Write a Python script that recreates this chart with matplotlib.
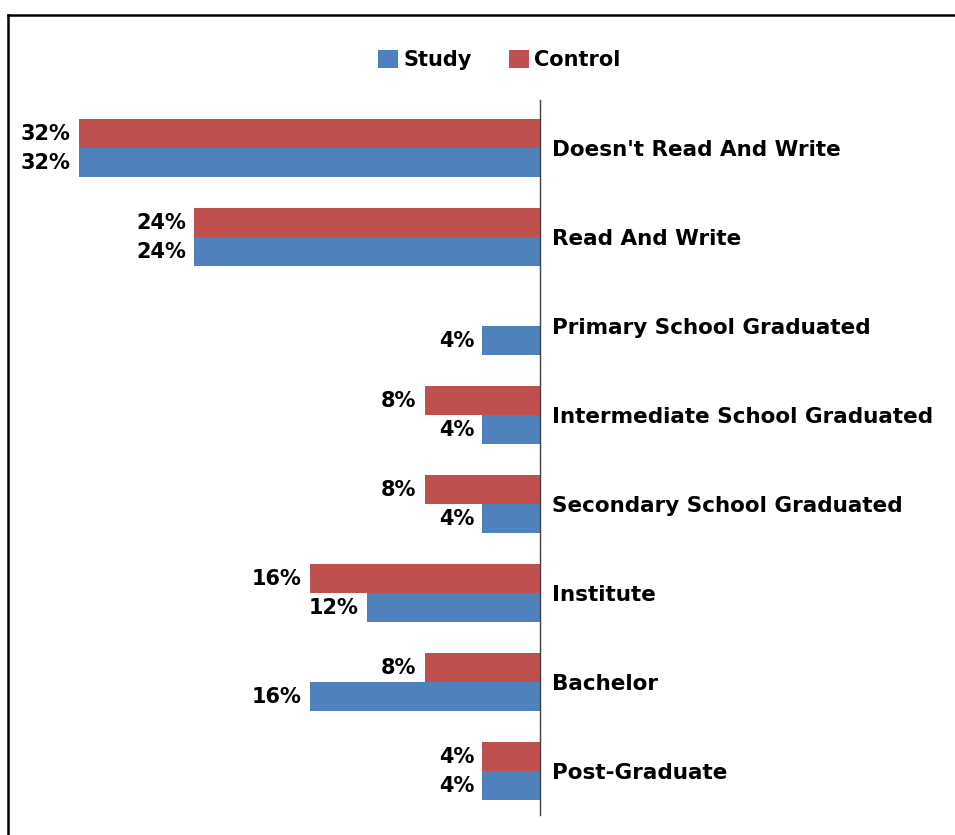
import matplotlib.pyplot as plt
from matplotlib.lines import Line2D
import numpy as np

# Education level categories (top to bottom)
categories = ["Doesn't Read And Write", "Read And Write", "Primary School Graduated",
              "Intermediate School Graduated", "Secondary School Graduated",
              "Institute", "Bachelor", "Post-Graduate"]

# Percentages
study = [32, 24, 4, 4, 4, 12, 16, 4]
control = [32, 24, 0, 8, 8, 16, 8, 4]

blue = '#4F81BD'
red = '#C0504D'

fig = plt.figure(figsize=(9.55, 8.35), dpi=100)
ax = fig.add_axes([0.0628, 0.024, 0.5026, 0.856])

y = np.arange(len(categories))
h = 0.326

# bars grow to the left from zero
ax.barh(y - h / 2, [-v for v in control], height=h, color=red, label='Control')
ax.barh(y + h / 2, [-v for v in study], height=h, color=blue, label='Study')

label_font = dict(fontsize=15, fontweight='bold')
for i in range(len(categories)):
    if control[i] > 0:
        ax.annotate(f"{control[i]}%", (-control[i], y[i] - h / 2), xytext=(-6, 0),
                    textcoords='offset points', ha='right', va='center', **label_font)
    if study[i] > 0:
        ax.annotate(f"{study[i]}%", (-study[i], y[i] + h / 2), xytext=(-6, 0),
                    textcoords='offset points', ha='right', va='center', **label_font)

ax.set_xlim(-33.33, 0)
ax.set_ylim(7.49, -0.54)

# category names to the right of the zero line
ax.yaxis.tick_right()
ax.set_yticks(y)
ax.set_yticklabels(categories, fontsize=15.5, fontweight='bold')
ax.tick_params(axis='y', length=0, pad=9)
ax.set_xticks([])

for side in ['left', 'top', 'bottom']:
    ax.spines[side].set_visible(False)
ax.spines['right'].set_color('#404040')
ax.spines['right'].set_linewidth(1.0)

# legend: Study first, then Control
handles, labels = ax.get_legend_handles_labels()
fig.legend(handles[::-1], labels[::-1], loc='center', bbox_to_anchor=(0.523, 0.928),
           ncol=2, frameon=False, handlelength=0.95, handleheight=0.95,
           handletextpad=0.25, columnspacing=1.8,
           prop=dict(size=15, weight='bold'))

# outer frame lines (top and left)
fig.add_artist(Line2D([8 / 955, 1], [1 - 15 / 835, 1 - 15 / 835], color='black', lw=1.8))
fig.add_artist(Line2D([8 / 955, 8 / 955], [0, 1 - 15 / 835], color='black', lw=1.8))

fig.savefig('out.png', dpi=100)
